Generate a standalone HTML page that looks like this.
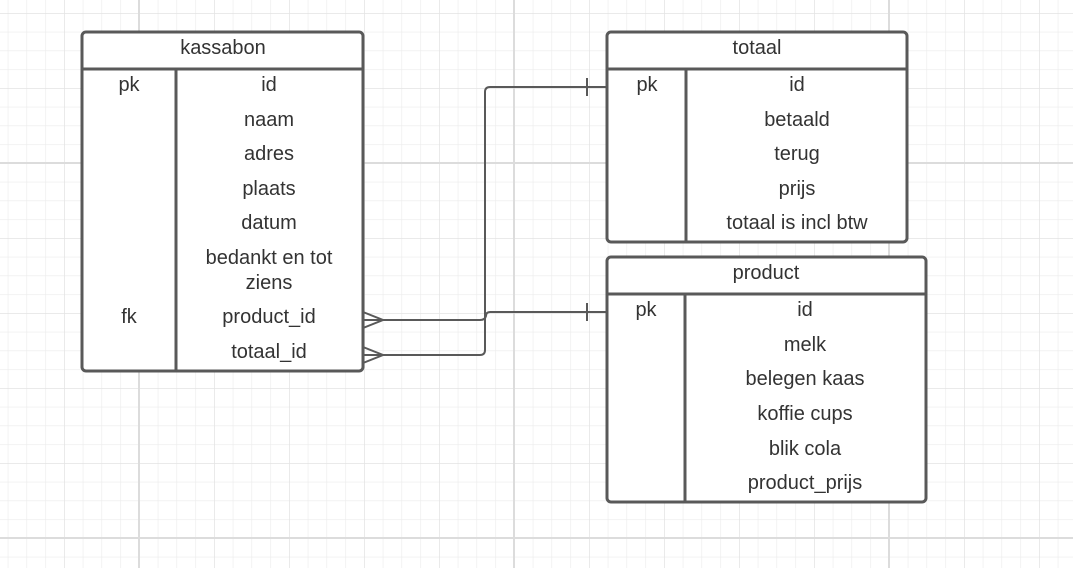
<!DOCTYPE html>
<html><head><meta charset="utf-8"><style>
body{margin:0;background:#fff;}
svg{display:block}
text{font-family:"Liberation Sans",sans-serif;font-size:20px;fill:#333;text-anchor:middle}
</style></head><body>
<svg width="1073" height="568" viewBox="0 0 1073 568">
<defs>
<pattern id="g" x="7.75" y="13" width="18.75" height="18.75" patternUnits="userSpaceOnUse">
<path d="M0 0H18.75M0 0V18.75" stroke="#ebebeb" stroke-width="1.2" fill="none"/>
</pattern>
<pattern id="m" x="64" y="13" width="75" height="75" patternUnits="userSpaceOnUse">
<path d="M0 0H75M0 0V75" stroke="#e4e4e4" stroke-width="1.5" fill="none"/>
</pattern>
</defs>
<rect width="1073" height="568" fill="url(#g)"/>
<rect width="1073" height="568" fill="url(#m)"/>
<g stroke="#dcdcdc" stroke-width="2"><path d="M139 0V568M514 0V568M889 0V568M0 163H1073M0 538H1073"/></g>

<g fill="#fff" stroke="#595959" stroke-width="3">
<rect x="82" y="32" width="281" height="339" rx="4"/>
<path d="M82 69H363M176 69V371"/>
<rect x="607" y="32" width="300" height="210" rx="4"/>
<path d="M607 69H907M686 69V242"/>
<rect x="607" y="257" width="319" height="245" rx="4"/>
<path d="M607 294H926M685 294V502"/>
</g>

<g fill="none" stroke="#595959" stroke-width="2">
<path d="M607 87H490Q485 87 485 92V350Q485 355 480 355H363"/>
<path d="M607 312H490Q486 312 486 316Q485 320 480 320H363"/>
<path d="M587 78V96M587 303V321"/>
<path d="M363 312L383 320L363 328M363 347L383 355L363 363"/>
</g>

<text x="223" y="54">kassabon</text>
<text x="129" y="91">pk</text>
<text x="129" y="323">fk</text>
<text x="269" y="91">id</text>
<text x="269" y="126">naam</text>
<text x="269" y="160">adres</text>
<text x="269" y="195">plaats</text>
<text x="269" y="229">datum</text>
<text x="269" y="264">bedankt en tot</text>
<text x="269" y="289">ziens</text>
<text x="269" y="323">product_id</text>
<text x="269" y="358">totaal_id</text>

<text x="757" y="54">totaal</text>
<text x="647" y="91">pk</text>
<text x="797" y="91">id</text>
<text x="797" y="126">betaald</text>
<text x="797" y="160">terug</text>
<text x="797" y="195">prijs</text>
<text x="797" y="229">totaal is incl btw</text>

<text x="766" y="279">product</text>
<text x="646" y="316">pk</text>
<text x="805" y="316">id</text>
<text x="805" y="351">melk</text>
<text x="805" y="385">belegen kaas</text>
<text x="805" y="420">koffie cups</text>
<text x="805" y="455">blik cola</text>
<text x="805" y="489">product_prijs</text>
</svg>
</body></html>
